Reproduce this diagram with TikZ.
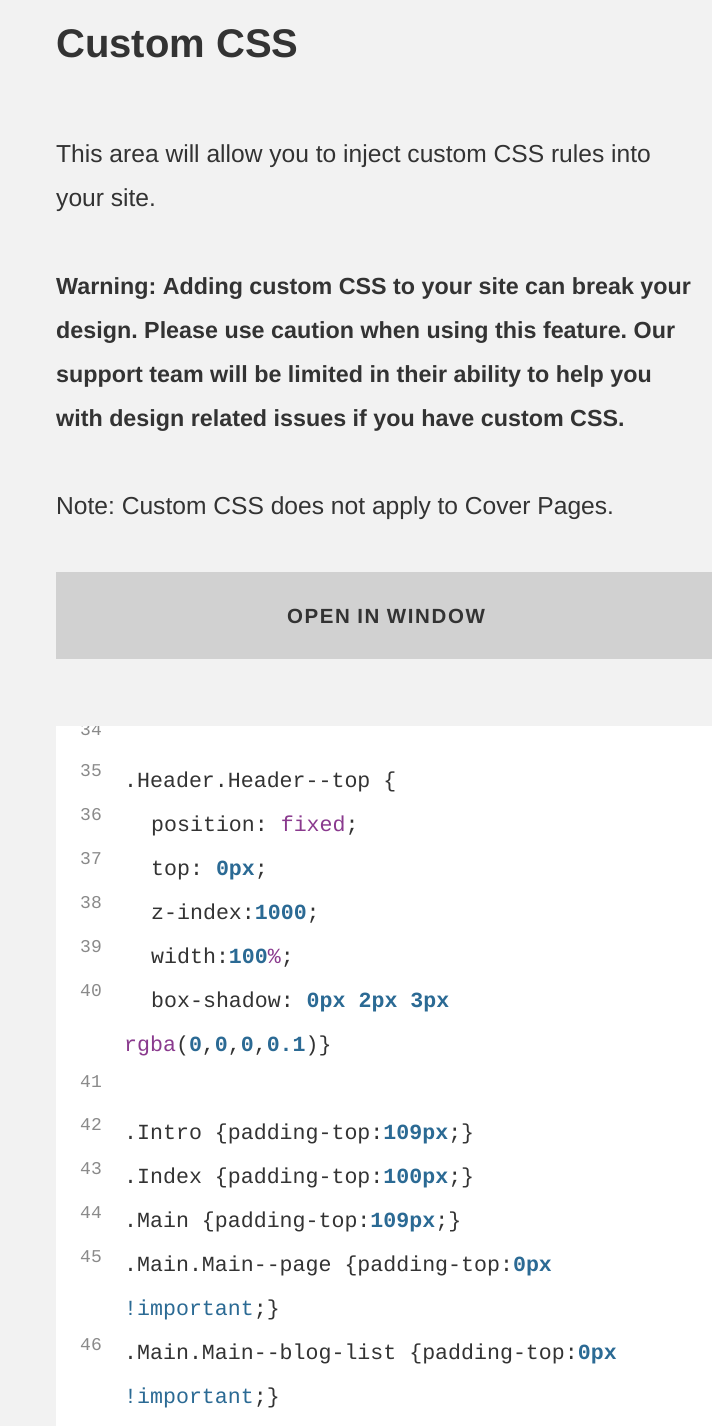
\documentclass[tikz,border=0pt]{standalone}
\usepackage{fontspec}
\setmainfont{Liberation Sans}
\setmonofont{Liberation Mono}
\usepackage{tikz}
\frenchspacing
\definecolor{pagegray}{HTML}{F2F2F2}
\definecolor{btngray}{HTML}{D1D1D1}
\definecolor{txtgray}{HTML}{333333}
\definecolor{lngray}{HTML}{8A8A8A}
\definecolor{numblue}{HTML}{2B6A94}
\definecolor{kwpurple}{HTML}{8A3A8E}
\newcommand{\cn}[1]{\textcolor{numblue}{\bfseries #1}}
\newcommand{\ck}[1]{\textcolor{kwpurple}{#1}}
\tikzset{
  body/.style={anchor=base west,inner sep=0pt,text=txtgray,font=\fontsize{24.6}{28}\selectfont},
  warn/.style={body,font=\bfseries\fontsize{23.3}{28}\selectfont},
  lnum/.style={anchor=base west,inner sep=0pt,text=lngray,font=\ttfamily\fontsize{18}{20}\selectfont},
  code/.style={anchor=base west,inner sep=0pt,text=txtgray,font=\ttfamily\fontsize{21.6}{24}\selectfont}
}
\begin{document}
\begin{tikzpicture}[x=1pt,y=-1pt]
    \useasboundingbox (0,0) rectangle (712,1426);
    \fill[pagegray] (0,0) rectangle (712,1426);
    \node[body,font=\bfseries\fontsize{40}{44}\selectfont] (title) at (56,58) {Custom CSS};
    \node[body] (intro1) at (56,162) {This area will allow you to inject custom CSS rules into};
    \node[body] (intro2) at (56,206) {your site.};
    \node[warn] (warn1) at (56,294) {Warning: Adding custom CSS to your site can break your};
    \node[warn] (warn2) at (56,338) {design. Please use caution when using this feature. Our};
    \node[warn] (warn3) at (56,382) {support team will be limited in their ability to help you};
    \node[warn] (warn4) at (56,426) {with design related issues if you have custom CSS.};
    \node[body] (note) at (56,514) {Note: Custom CSS does not apply to Cover Pages.};
    \fill[btngray] (56,572) rectangle (712,659);
    \node[inner sep=0pt,text=txtgray,font=\bfseries\fontsize{20.5}{22}\selectfont\addfontfeatures{LetterSpace=8}] (open) at (386,616) {OPEN IN WINDOW};
    % code editor
    \begin{scope}
    \clip (56,726) rectangle (712,1426);
    \fill[white] (56,726) rectangle (712,1426);
    \foreach \n/\y in {34/735,35/776,36/820,37/864,38/908,39/952,40/996,41/1087,42/1130,43/1174,44/1218,45/1262,46/1350,47/1438}
      \node[lnum] (ln\n) at (80,\y) {\n};
    \node[code] (c35) at (124,787) {.Header.Header--top \{};
    \node[code] (c36) at (151,831) {position: \ck{fixed};};
    \node[code] (c37) at (151,875) {top: \cn{0px};};
    \node[code] (c38) at (151,919) {z-index:\cn{1000};};
    \node[code] (c39) at (151,963) {width:\cn{100}\ck{\%};};
    \node[code] (c40) at (151,1007) {box-shadow: \cn{0px} \cn{2px} \cn{3px}};
    \node[code] (c40b) at (124,1051) {\ck{rgba}(\cn{0},\cn{0},\cn{0},\cn{0.1})\}};
    \node[code] (c42) at (124,1139) {.Intro \{padding-top:\cn{109px};\}};
    \node[code] (c43) at (124,1183) {.Index \{padding-top:\cn{100px};\}};
    \node[code] (c44) at (124,1227) {.Main \{padding-top:\cn{109px};\}};
    \node[code] (c45) at (124,1271) {.Main.Main--page \{padding-top:\cn{0px}};
    \node[code] (c45b) at (124,1315) {\textcolor{numblue}{!important};\}};
    \node[code] (c46) at (124,1359) {.Main.Main--blog-list \{padding-top:\cn{0px}};
    \node[code] (c46b) at (124,1403) {\textcolor{numblue}{!important};\}};
    \end{scope}
  \end{tikzpicture}
\end{document}
